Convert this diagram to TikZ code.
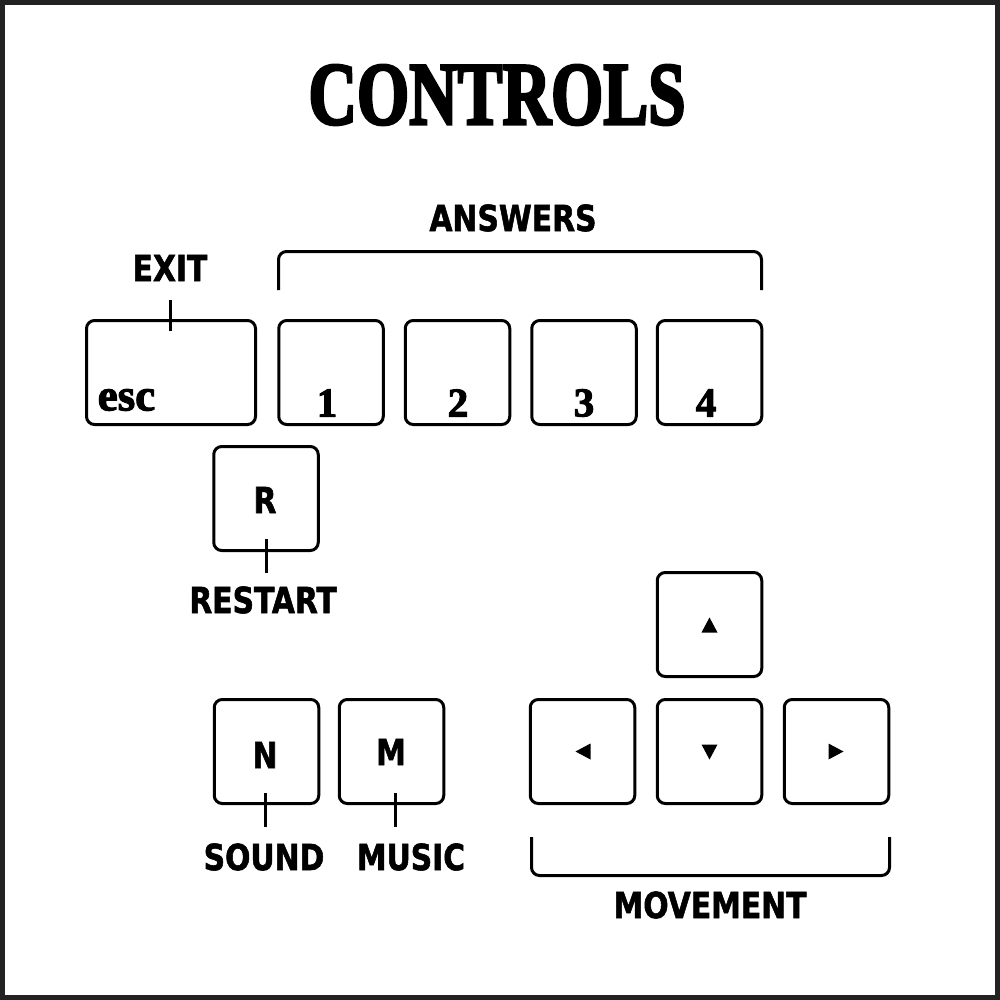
\documentclass[tikz,border=0pt]{standalone}
\usepackage{fontspec}
\newfontfamily\lblfont{DejaVu Sans Condensed}[BoldFeatures={FakeBold=1.6}]
\newfontfamily\serfont{Liberation Serif}[BoldFeatures={FakeBold=2.5}]
\newfontfamily\titlefont{Liberation Serif}[BoldFeatures={FakeBold=3.5}]
\definecolor{frame}{HTML}{222222}
\begin{document}
\begin{tikzpicture}[x=1pt,y=-1pt,
  key/.style={draw, line width=3pt, rounded corners=8pt, minimum width=104.5pt, minimum height=104pt, inner sep=0pt},
  lbl/.style={font=\lblfont\bfseries\fontsize{36}{36}\selectfont, inner sep=0pt, xscale=0.92},
  digit/.style={font=\serfont\bfseries\fontsize{41}{41}\selectfont, inner sep=0pt},
  conn/.style={line width=3pt},
  bracket/.style={line width=3pt, rounded corners=8pt},
  tri/.style={fill=black}]
\useasboundingbox (0,0) rectangle (1000,1000);
\fill[white] (0,0) rectangle (1000,1000);
\draw[line width=5pt, frame] (2.5,2.5) rectangle (997.5,997.5);

% title
\node[font=\titlefont\bfseries\fontsize{89}{89}\selectfont, inner sep=0pt, xscale=0.755] (title) at (497,95) {CONTROLS};

% keys
\node[key, minimum width=169pt] (kesc) at (171,372.5) {};
\node[key] (k1) at (331,372.5) {};
\node[key] (k2) at (457.5,372.5) {};
\node[key] (k3) at (584,372.5) {};
\node[key] (k4) at (709.5,372.5) {};
\node[key] (kr) at (266,498.5) {};
\node[key] (kup) at (709.5,624.5) {};
\node[key] (kleft) at (582.5,751.5) {};
\node[key] (kdown) at (709.5,751.5) {};
\node[key] (kright) at (836.5,751.5) {};
\node[key] (kn) at (266.5,751.5) {};
\node[key] (km) at (391.5,751.5) {};

% key glyphs
\node[font=\serfont\bfseries\fontsize{45}{45}\selectfont, inner sep=0pt] (tesc) at (126.5,400) {esc};
\node[digit] (t1) at (327,403) {1};
\node[digit] (t2) at (458,403) {2};
\node[digit] (t3) at (584,403) {3};
\node[digit] (t4) at (706,403) {4};
\node[lbl] (tr) at (265,500) {R};
\node[lbl] (tn) at (265,755) {N};
\node[lbl] (tm) at (391,752) {M};

% arrows
\fill[tri, shift={(kup.center)}] (-8,8) -- (8,8) -- (0,-7) -- cycle;
\fill[tri, shift={(kdown.center)}] (-8,-7) -- (8,-7) -- (0,8) -- cycle;
\fill[tri, shift={(kleft.center)}] (8,-8) -- (8,8) -- (-7,0) -- cycle;
\fill[tri, shift={(kright.center)}] (-8,-8) -- (-8,8) -- (7,0) -- cycle;

% labels
\node[lbl] (lexit) at (170,268) {EXIT};
\node[lbl] (lans) at (513,218) {ANSWERS};
\node[lbl] (lrestart) at (263,600) {RESTART};
\node[lbl] (lsound) at (264,857) {SOUND};
\node[lbl] (lmusic) at (411,857) {MUSIC};
\node[lbl] (lmove) at (710,905) {MOVEMENT};

% connectors
\coordinate (ce1) at (170,300); \coordinate (ce2) at (170,331);
\draw[conn] (ce1) -- (ce2);
\coordinate (cr1) at (266,539); \coordinate (cr2) at (266,573);
\draw[conn] (cr1) -- (cr2);
\coordinate (cn1) at (265,793); \coordinate (cn2) at (265,827);
\draw[conn] (cn1) -- (cn2);
\coordinate (cm1) at (395,793); \coordinate (cm2) at (395,827);
\draw[conn] (cm1) -- (cm2);

% brackets
\draw[bracket] (278.5,290) -- (278.5,251.5) -- (761.5,251.5) -- (761.5,290);
\draw[bracket] (531.5,837) -- (531.5,875.5) -- (889.5,875.5) -- (889.5,837);
\end{tikzpicture}
\end{document}
